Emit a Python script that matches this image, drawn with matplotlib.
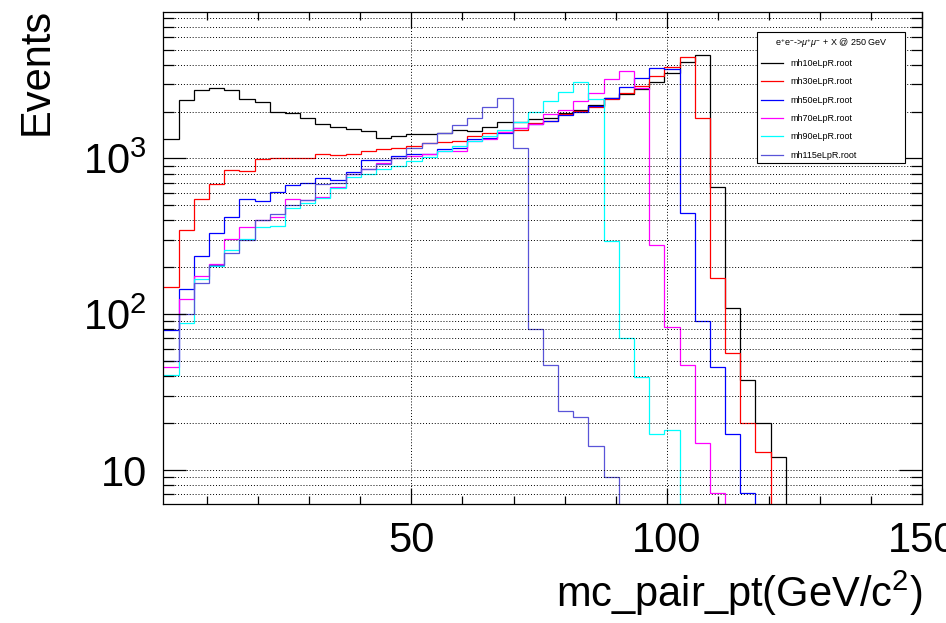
import matplotlib

matplotlib.use('Agg')

import matplotlib.pyplot as plt
import numpy as np
from matplotlib.ticker import FixedLocator, FixedFormatter, LogLocator, NullFormatter


plt.rcParams['font.family'] = ['Liberation Sans', 'DejaVu Sans']
plt.rcParams['mathtext.fontset'] = 'custom'
plt.rcParams['mathtext.rm'] = 'Liberation Sans'
plt.rcParams['mathtext.it'] = 'Liberation Sans:italic'

# 50 bins filling the whole axis range
x_min, x_max, n_bins = 1.5, 150, 50
bin_edges = np.linspace(x_min, x_max, n_bins + 1)

mh10 = [1336, 2366, 2741, 2851, 2741, 2398, 2307, 2000, 1960, 1820,
        1660, 1596, 1545, 1497, 1355, 1390, 1432, 1435, 1446, 1512,
        1492, 1585, 1701, 1710, 1780, 1820, 1943, 2059, 2210, 2455,
        2600, 2780, 3071, 3508, 4159, 4590, 657, 109, 37.9, 19.9,
        12.1, 0, 0, 0, 0, 0, 0, 0, 0, 0]
mh30 = [150, 347, 547, 681, 841, 828, 988, 1003, 1003, 1012,
        1074, 1045, 1066, 1110, 1142, 1167, 1194, 1250, 1278, 1291,
        1396, 1453, 1475, 1518, 1690, 1742, 1914, 2018, 2137, 2410,
        2635, 2917, 3372, 3864, 4478, 1804, 170, 56.2, 20, 13.0,
        0, 0, 0, 0, 0, 0, 0, 0, 0, 0]
mh50 = [79, 145, 237, 330, 423, 546, 532, 612, 670, 698,
        751, 726, 815, 983, 970, 1037, 1061, 1071, 1152, 1164,
        1323, 1355, 1459, 1571, 1660, 1726, 1887, 1981, 2174, 2435,
        2890, 3298, 3820, 3733, 448, 90.6, 45.5, 17.1, 7.1, 0,
        0, 0, 0, 0, 0, 0, 0, 0, 0, 0]
mh70 = [46, 125, 175, 210, 303, 365, 402, 419, 546, 540,
        567, 660, 800, 850, 935, 1000, 1040, 1060, 1110, 1114,
        1291, 1330, 1470, 1556, 1660, 1914, 2059, 2335, 2625, 3212,
        3640, 2838, 278, 83.3, 47.3, 15.0, 7.1, 0, 0, 0,
        0, 0, 0, 0, 0, 0, 0, 0, 0, 0]
mh90 = [41, 88, 169, 204, 258, 303, 365, 368, 478, 520,
        560, 650, 760, 800, 860, 893, 965, 1024, 1110, 1200,
        1300, 1400, 1520, 1720, 1989, 2328, 2650, 3071, 2389, 295,
        70.7, 39.6, 17.1, 18.0, 0, 0, 0, 0, 0, 0,
        0, 0, 0, 0, 0, 0, 0, 0, 0, 0]
mh115 = [50, 101, 158, 206, 246, 300, 402, 440, 500, 540,
         680, 700, 800, 850, 920, 1000, 1159, 1259, 1446, 1627,
         1804, 2141, 2426, 1159, 80, 47, 24, 22, 14.2, 9.0,
         0, 0, 0, 0, 0, 0, 0, 0, 0, 0,
         0, 0, 0, 0, 0, 0, 0, 0, 0, 0]

series = [
    ('mh10eLpR.root', mh10, '#000000'),
    ('mh30eLpR.root', mh30, '#ff0000'),
    ('mh50eLpR.root', mh50, '#0000ff'),
    ('mh70eLpR.root', mh70, '#ff00ff'),
    ('mh90eLpR.root', mh90, '#00ffff'),
    ('mh115eLpR.root', mh115, '#5954d8'),
]

fig = plt.figure(figsize=(9.46, 6.23), dpi=100)
ax = fig.add_axes([0.1728, 0.191, 0.8023, 0.7897])

for label, values, color in series:
    ax.stairs(values, bin_edges, baseline=None, color=color,
              linewidth=0.9, label=label)

ax.set_yscale('log')
ax.set_xlim(x_min, x_max)
ax.set_ylim(6.05, 8700)

# x axis: labels at 50/100/150, minor ticks every 10
ax.xaxis.set_major_locator(FixedLocator([50, 100, 150]))
ax.xaxis.set_minor_locator(FixedLocator(np.arange(10, 150, 10)))
ax.xaxis.set_major_formatter(FixedFormatter(['50', '100', '150']))

ax.yaxis.set_major_locator(FixedLocator([10, 100, 1000]))
ax.yaxis.set_major_formatter(FixedFormatter(['10', r'$10^{2}$', r'$10^{3}$']))
ax.yaxis.set_minor_locator(LogLocator(base=10, subs=np.arange(2, 10)))
ax.yaxis.set_minor_formatter(NullFormatter())

ax.tick_params(which='both', direction='in', top=True, right=True,
               labelsize=30, width=0.9)
ax.tick_params(axis='x', which='major', length=11.5, pad=12)
ax.tick_params(axis='x', which='minor', length=5.8)
ax.tick_params(axis='y', which='major', length=16.5, pad=12)
ax.tick_params(axis='y', which='minor', length=8)

ax.grid(True, axis='x', which='major', color='black', linestyle=(0, (1, 2)),
        linewidth=0.7)
ax.grid(True, axis='y', which='both', color='black', linestyle=(0, (1, 2)),
        linewidth=0.7)

for spine in ax.spines.values():
    spine.set_linewidth(0.9)

fig.text(37 / 946, 1 - 8 / 623, 'Events', fontsize=30, rotation=90,
         ha='center', va='top')
ax.set_xlabel(r'mc_pair_pt(GeV/c$^{2}$)', fontsize=30, loc='right',
              labelpad=6)

legend = ax.legend(
    loc='upper left',
    bbox_to_anchor=(0.7826, 0.693, 0.195, 0.266),
    mode='expand',
    title=r'e$^{+}$e$^{-}$->$\mu^{+}\mu^{-}$ + X @ 250 GeV',
    title_fontsize=6.5,
    fontsize=6.5,
    frameon=True,
    fancybox=False,
    edgecolor='black',
    framealpha=1,
    handlelength=2.4,
    labelspacing=1.04,
    borderaxespad=0,
)
legend.get_frame().set_linewidth(0.8)

fig.savefig('out.png', dpi=100)
